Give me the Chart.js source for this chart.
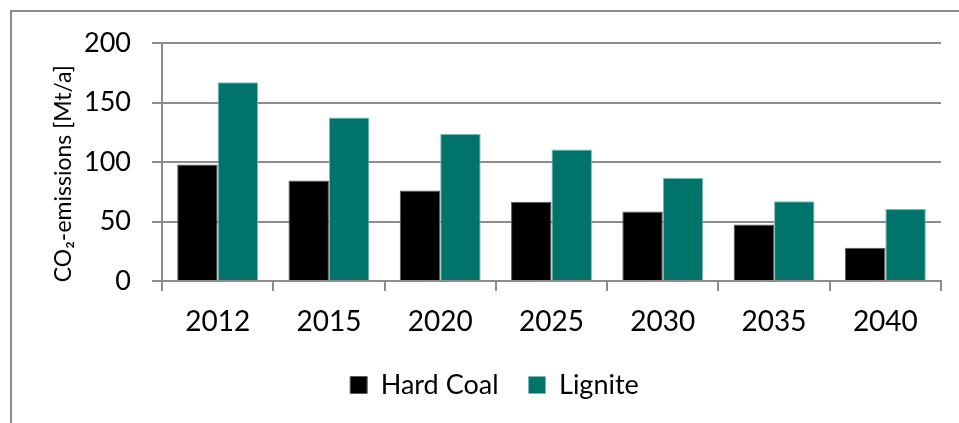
<!DOCTYPE html>
<html>
<head>
<meta charset="utf-8">
<script src="https://cdn.jsdelivr.net/npm/chart.js@4/dist/chart.umd.min.js"></script>
<style>
  body { margin: 0; background: #fff; }
  #wrap { position: relative; width: 959px; height: 423px; }
  #frame { position: absolute; left: 10px; top: 10px; width: 960px; height: 420px;
           border-left: 2px solid #8c8c8c; border-top: 2px solid #8c8c8c; }
  canvas { position: absolute; left: 0; top: 0; }
</style>
</head>
<body>
<div id="wrap">
  <div id="frame"></div>
  <canvas id="co2_chart" width="959" height="423"></canvas>
</div>
<script>
var years = ["2012", "2015", "2020", "2025", "2030", "2035", "2040"];
var hard_coal = [98, 84.5, 76, 66.5, 58.5, 47.5, 28];
var lignite = [167, 137.5, 123.5, 110.5, 86.5, 67, 60.5];
var y_ticks = [0, 50, 100, 150, 200];

const font_family = "Lato, 'Open Sans', sans-serif";
const grid_col = '#8c8c8c';
const ctx = document.getElementById("co2_chart").getContext("2d");

var my_chart = new Chart(ctx, {
	type: 'bar',
	data: {
		labels: years,
		datasets: [{
			label: 'Hard Coal',
			data: hard_coal,
			backgroundColor: '#000000',
			borderColor: '#5a5a5a',
			borderWidth: 1
		}, {
			label: 'Lignite',
			data: lignite,
			backgroundColor: '#00746b',
			borderColor: '#7fb9b3',
			borderWidth: 1
		}]
	},
	options: {
		responsive: false,
		animation: false,
		layout: { padding: { left: 48, right: 18, top: 43, bottom: 14.5 } },
		datasets: { bar: { barPercentage: 1, categoryPercentage: 0.727 } },
		plugins: {
			tooltip: { enabled: false },
			legend: {
				position: 'bottom',
				labels: {
					boxWidth: 17,
					boxHeight: 17,
					padding: 30,
					color: '#000',
					font: { family: font_family, size: 27 }
				}
			}
		},
		scales: {
			x: {
				afterFit: function (scale) { scale.height = 60.5; },
				grid: {
					offset: true,
					drawOnChartArea: false,
					drawTicks: true,
					tickLength: 10,
					color: grid_col,
					lineWidth: 2
				},
				border: { display: true, color: grid_col, width: 2 },
				ticks: {
					color: '#000',
					padding: 14,
					font: { family: font_family, size: 28 }
				}
			},
			y: {
				min: 0,
				max: 200,
				afterFit: function (scale) { scale.width = 114; },
				afterBuildTicks: function (scale) {
					scale.ticks = y_ticks.map(v => ({ value: v }));
				},
				grid: {
					color: grid_col,
					lineWidth: 2,
					tickLength: 10
				},
				border: { display: true, color: grid_col, width: 2 },
				ticks: {
					color: '#000',
					padding: 21,
					font: { family: font_family, size: 27 }
				},
				title: {
					display: true,
					// trailing spaces nudge the rotated text down a bit, like the original
					text: 'CO\u2082-emissions [Mt/a]    ',
					color: '#000',
					padding: { top: 2, bottom: 0 },
					font: { family: font_family, size: 23 }
				}
			}
		}
	}
});
</script>
</body>
</html>
